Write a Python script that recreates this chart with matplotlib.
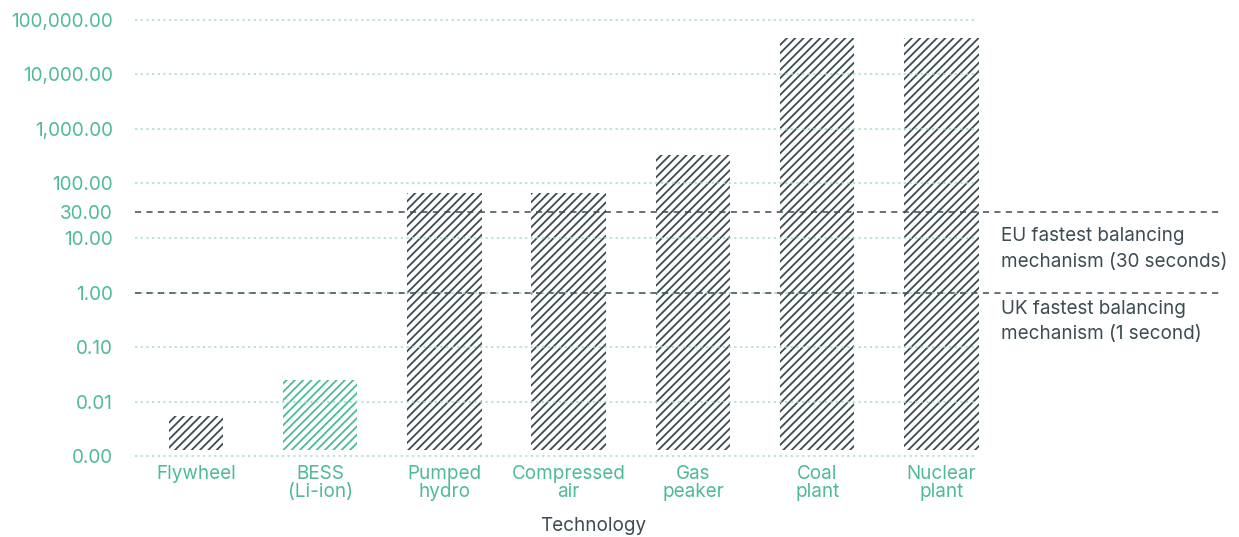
import matplotlib.pyplot as plt
import matplotlib.ticker as mticker
import numpy as np

# Response time per technology (seconds, log scale)
technologies = ['Flywheel', 'BESS\n(Li-ion)', 'Pumped\nhydro', 'Compressed\nair',
                'Gas\npeaker', 'Coal\nplant', 'Nuclear\nplant']
response_s = [0.0054, 0.025, 66, 66, 330, 45000, 45000]
highlight = [False, True, False, False, False, False, False]

y_ticks = [0.001, 0.01, 0.1, 1, 10, 30, 100, 1000, 10000, 100000]
grid_ticks = [0.001, 0.01, 0.1, 1, 10, 100, 1000, 10000, 100000]

eu_limit = 30
uk_limit = 1
eu_label = 'EU fastest balancing\nmechanism (30 seconds)'
uk_label = 'UK fastest balancing\nmechanism (1 second)'

green = '#4dbb93'
light_green = '#a6dcc8'
dark = '#3c4c52'

plt.rcParams['font.family'] = ['Inter', 'DejaVu Sans']
plt.rcParams['hatch.linewidth'] = 1.3

fig = plt.figure(figsize=(12.39, 5.37), dpi=100)
W, H = 1239, 537
ax = fig.add_axes([135 / W, 1 - 457 / H, 840 / W, 438 / H])

x = np.arange(len(technologies))
widths = [0.44 if i == 0 else 0.6 for i in range(len(technologies))]
base = 0.0013
for xi, val, hl, w in zip(x, response_s, highlight, widths):
    ax.bar(xi, val - base, bottom=base, width=w, facecolor='white',
           edgecolor=green if hl else dark, linewidth=0, hatch='////',
           zorder=2, clip_on=False)

ax.set_yscale('log')
ax.set_ylim(10 ** -3.01, 10 ** 5.01)
ax.set_xlim(-0.49, 6.27)

for g in grid_ticks:
    ax.axhline(g, color=light_green, lw=1.1, ls=(0, (1.5, 2.2)), zorder=3, clip_on=False)

for lim in (eu_limit, uk_limit):
    ax.plot([0, 1.292], [lim, lim], transform=ax.get_yaxis_transform(),
            color=dark, lw=1.1, ls=(0, (4, 3.5)), zorder=4, clip_on=False)

ax.annotate(eu_label, xy=(1.031, eu_limit), xycoords=ax.get_yaxis_transform(),
            xytext=(0, -11), textcoords='offset points', va='top', ha='left',
            fontsize=13.6, color=dark, linespacing=1.55, annotation_clip=False)
ax.annotate(uk_label, xy=(1.031, uk_limit), xycoords=ax.get_yaxis_transform(),
            xytext=(0, -5), textcoords='offset points', va='top', ha='left',
            fontsize=13.6, color=dark, linespacing=1.55, annotation_clip=False)

ax.yaxis.set_major_locator(mticker.FixedLocator(y_ticks))
ax.yaxis.set_minor_locator(mticker.NullLocator())
ax.yaxis.set_major_formatter(mticker.FuncFormatter(lambda v, p: f'{v:,.2f}'))
ax.tick_params(axis='y', length=0, pad=16, labelsize=13.6, labelcolor=green)

ax.set_xticks(x)
ax.set_xticklabels(technologies, linespacing=1.0)
ax.tick_params(axis='x', length=0, pad=6, labelsize=13.6, labelcolor=green)
ax.set_xlabel('Technology', fontsize=13.6, color=dark)
ax.xaxis.set_label_coords(0.545, -0.137)

for s in ax.spines.values():
    s.set_visible(False)

plt.savefig('out.png', dpi=100)
